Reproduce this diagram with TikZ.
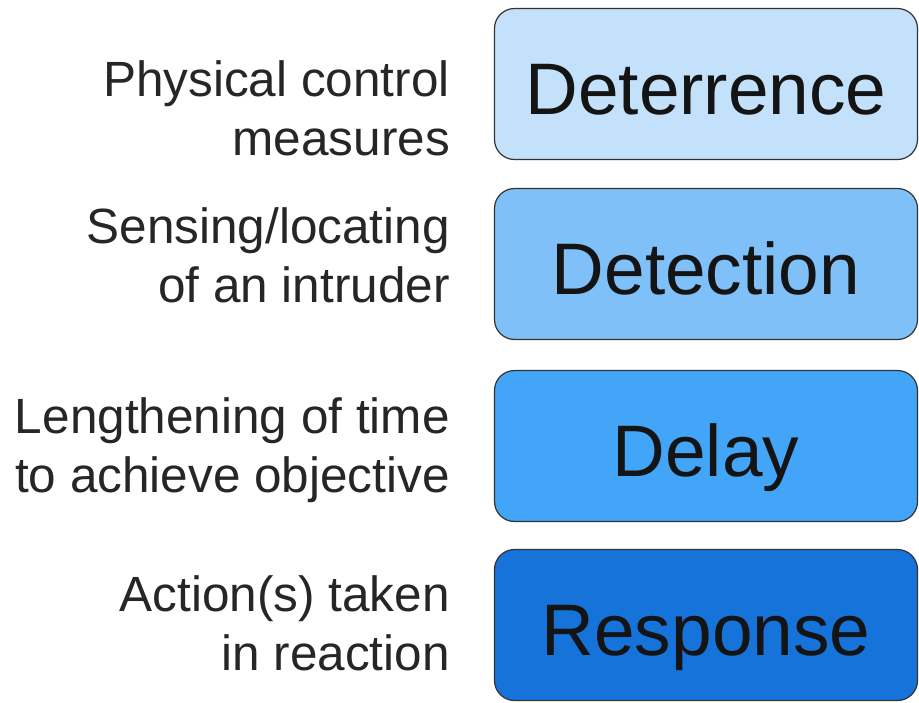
\documentclass[tikz,border=0pt]{standalone}
\usepackage{fontspec}
\setmainfont{Liberation Sans}

\definecolor{deterfill}{HTML}{C4E1FB}
\definecolor{detectfill}{HTML}{80C0F9}
\definecolor{delayfill}{HTML}{43A5F7}
\definecolor{respfill}{HTML}{1573DA}

\begin{document}
\begin{tikzpicture}[x=1pt, y=-1pt,
  stage/.style={draw=black!80, line width=1.2pt, rounded corners=20pt,
    minimum width=423pt, minimum height=151pt, inner sep=0pt,
    font=\fontsize{73}{80}\selectfont, text=black!92,
    text height=60pt, text depth=0pt},
  desc/.style={anchor=base east, align=right, inner sep=0pt,
    font=\fontsize{49.5}{59}\selectfont, text=black!85}]

  \useasboundingbox (0,0) rectangle (919,702);

  % --- 1. the four stages ---
  \node[stage, fill=deterfill]  (deter)  at (706,84)  {Deterrence};
  \node[stage, fill=detectfill] (detect) at (706,264) {Detection};
  \node[stage, fill=delayfill]  (delay)  at (706,446) {Delay};
  \node[stage, fill=respfill]   (resp)   at (706,625) {Response};

  % --- 2. what each stage means (anchored on the last line) ---
  \node[desc] (deterdesc)  at (450,155) {Physical control\\measures};
  \node[desc] (detectdesc) at (450,302) {Sensing/locating\\of an intruder};
  \node[desc] (delaydesc)  at (450,492) {Lengthening of time\\to achieve objective};
  \node[desc] (respdesc)   at (450,670) {Action(s) taken\\in reaction};

\end{tikzpicture}
\end{document}
